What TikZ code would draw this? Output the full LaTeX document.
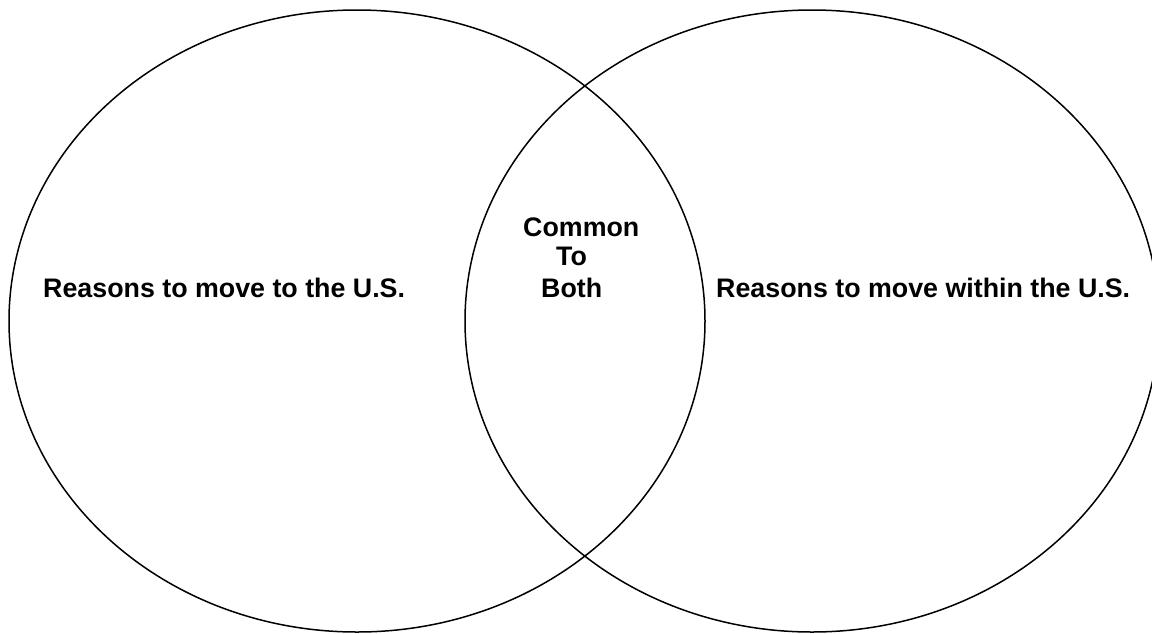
\documentclass[tikz,border=0pt]{standalone}
\usepackage{fontspec}
\setmainfont{Liberation Sans}
\tikzset{
  venn/.style={draw=black, line width=1.5pt},
  lbl/.style={font=\fontsize{26.8}{30}\selectfont\bfseries, inner sep=0pt, anchor=base west}
}
\begin{document}
\begin{tikzpicture}[x=1pt,y=-1pt]
\useasboundingbox (0,0) rectangle (1152,633);
\draw[venn] (357,321) ellipse [x radius=348, y radius=311];
\draw[venn] (812,321) ellipse [x radius=347, y radius=311];
\node[lbl] (left) at (43,297) {Reasons to move to the U.S.};
\node[lbl] (right) at (716,297) {Reasons to move within the U.S.};
\node[lbl] (common) at (523,236) {Common};
\node[lbl] (to) at (556,265) {To};
\node[lbl] (both) at (541,297) {Both};
\end{tikzpicture}
\end{document}
